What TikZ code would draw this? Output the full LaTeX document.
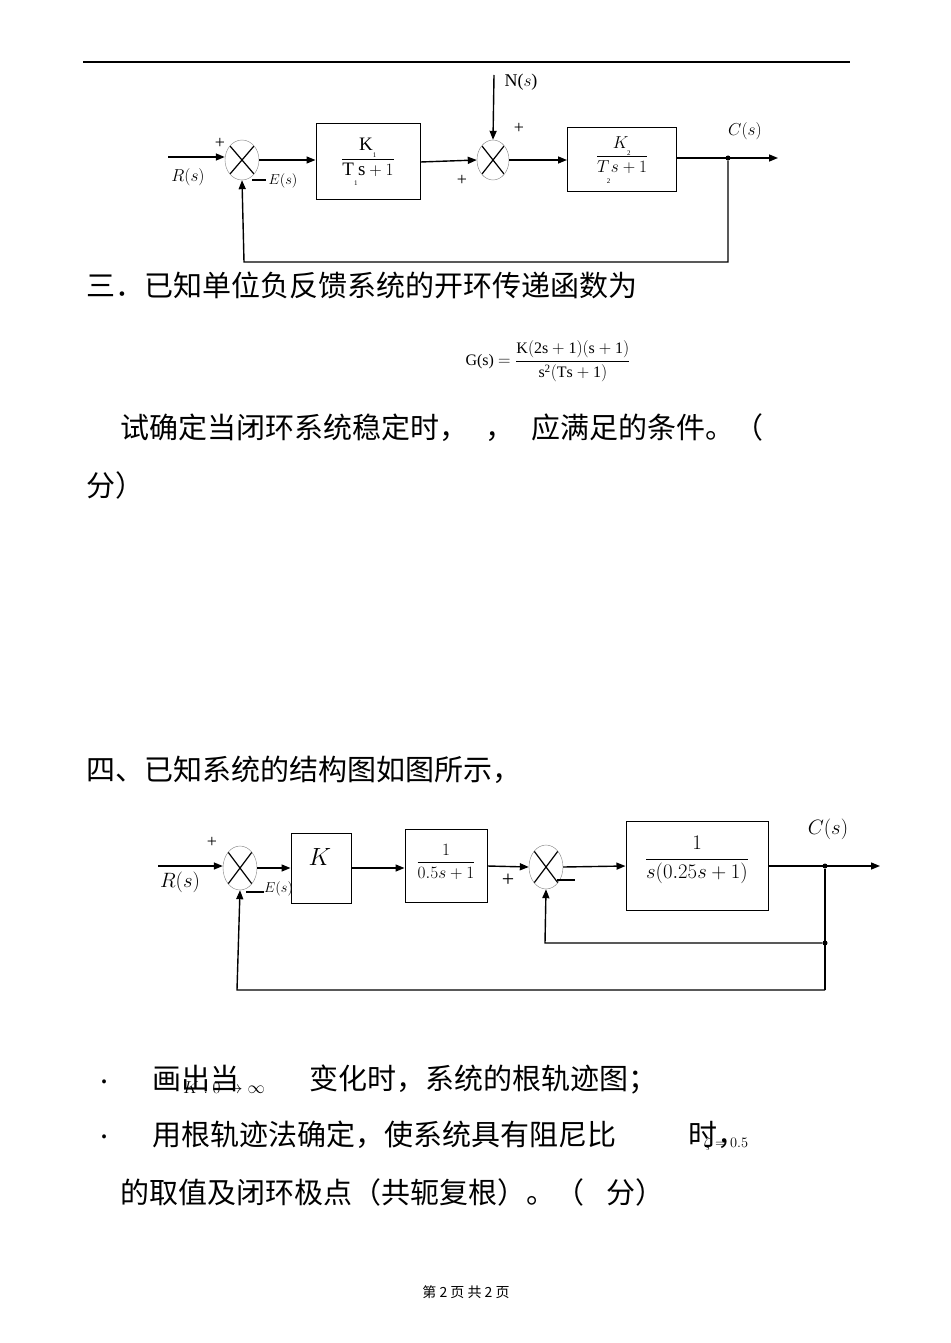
\documentclass[tikz,border=0pt]{standalone}
\usepackage{fontspec}
\setmainfont{Liberation Serif}
\newfontfamily\cjk{Noto Sans CJK SC}
\usetikzlibrary{arrows.meta,shapes.geometric}
\begin{document}
\begin{tikzpicture}[x=1pt,y=-1pt,
  blk/.style={draw,line width=1pt,minimum width=#1,inner sep=0pt},
  sumj/.style={draw=gray,ellipse,minimum width=34pt,minimum height=40pt,inner sep=0pt,
    path picture={\draw[black,line width=1.2pt] (path picture bounding box.north west)++(5pt,-6pt) -- ([shift={(-5pt,6pt)}]path picture bounding box.south east);
    \draw[black,line width=1.2pt] ([shift={(-5pt,-6pt)}]path picture bounding box.north east) -- ([shift={(5pt,6pt)}]path picture bounding box.south west);}},
  sig/.style={line width=1.4pt,-{Triangle[length=9pt,width=7pt]}},
  ln/.style={line width=1.4pt},
  lbl/.style={font=\fontsize{18}{18}\selectfont,inner sep=0pt},
  cn/.style={font=\cjk\fontsize{29}{29}\selectfont,anchor=west,inner sep=0pt},
  dotn/.style={circle,fill,inner sep=0pt,minimum size=5pt}]
\useasboundingbox (0,0) rectangle (950,1343);
\fill[white] (0,0) rectangle (950,1343);
\draw[line width=1.6pt] (83,62) -- (850,62);
% ---- top diagram
\coordinate (rin) at (168,157);
\node[sumj] (s1) at (242,160) {};
\node[blk,minimum height=76pt,minimum width=104pt] (b1) at (368,162) {};
\node[font=\fontsize{19}{19}\selectfont] (b1t) at (368,162) {$\displaystyle\frac{\mathrm{K}_{\raisebox{-4pt}{\scriptsize 1}}}{\mathrm{T}_{\raisebox{-8pt}{\scriptsize 1}}\mathrm{s}+1}$};
\node[sumj,minimum width=32pt] (s2) at (493,160) {};
\coordinate (nin) at (494,75);
\node[blk,minimum height=64pt,minimum width=109pt] (b2) at (622,160) {};
\node[font=\fontsize{19}{19}\selectfont] (b2t) at (622,160) {$\displaystyle\frac{K_{\raisebox{-4pt}{\scriptsize 2}}}{T_{\raisebox{-8pt}{\scriptsize 2}}s+1}$};
\node[dotn] (c1) at (728,158) {};
\coordinate (cout) at (778,158);
\coordinate (fb1) at (728,262);
\coordinate (fb2) at (244,262);
\draw[sig] (rin) -- (s1.west|-rin);
\draw[sig] (s1.east) -- (b1.west|-s1.east);
\draw[sig] (b1.east) -- (s2.west);
\draw[sig] (nin) -- (s2.north);
\draw[sig] (s2.east) -- (b2.west|-s2.east);
\draw[sig] (b2.east|-c1) -- (cout);
\draw[sig] (c1) -- (fb1) -- (fb2) -- (s1.south);
\node[lbl] (l1) at (188,177) {$R(s)$};
\node[lbl] (l2) at (220,143) {+};
\node[lbl,font=\fontsize{14}{14}\selectfont,anchor=west] (l3) at (252,181) {\rule[4pt]{14pt}{1.2pt}\,$E(s)$};
\node[lbl] (l4) at (462,180) {+};
\node[lbl] (l5) at (521,82) {N($s$)};
\node[lbl] (l6) at (519,128) {+};
\node[lbl] (l7) at (745,131) {$C(s)$};
% ---- text
\node[cn] (t1) at (86,285) {三．已知单位负反馈系统的开环传递函数为};
\node[font=\fontsize{16}{16}\selectfont] (g) at (548,361) {G(s) $=\displaystyle\frac{\mathrm{K(2s+1)(s+1)}}{\mathrm{s^2(Ts+1)}}$};
\node[cn] (t2) at (120,428) {试确定当闭环系统稳定时，\hspace{17pt}，\hspace{17pt}应满足的条件。（};
\node[cn] (t3) at (86,485) {分）};
\node[cn] (t4) at (86,770) {四、已知系统的结构图如图所示，};
% ---- bottom diagram
\coordinate (rin2) at (158,866);
\node[sumj,minimum height=44pt] (s3) at (240,868) {};
\node[blk,minimum height=70pt,minimum width=60pt] (k) at (321,868) {};
\node[lbl,font=\fontsize{24}{24}\selectfont] (kt) at (320,857) {$K$};
\node[blk,minimum height=73pt,minimum width=82pt] (b3) at (446,866) {};
\node[font=\fontsize{19}{19}\selectfont] (b3t) at (446,862) {$\displaystyle\frac{1}{0.5s+1}$};
\node[sumj,minimum height=44pt] (s4) at (546,867) {};
\node[blk,minimum height=89pt,minimum width=142pt] (b4) at (697,866) {};
\node[font=\fontsize{20}{20}\selectfont] (b4t) at (697,860) {$\displaystyle\frac{1}{s(0.25s+1)}$};
\node[dotn] (c2) at (825,866) {};
\node[dotn] (c3) at (825,943) {};
\coordinate (cout2) at (880,866);
\coordinate (ob) at (825,990);
\coordinate (obl) at (237,990);
\coordinate (ibl) at (545,943);
\draw[sig] (rin2) -- (s3.west|-rin2);
\draw[sig] (s3.east|-k) -- (k.west);
\draw[sig] (k.east) -- (b3.west|-k);
\draw[sig] (b3.east) -- (s4.west);
\draw[sig] (s4.east) -- (b4.west);
\draw[sig] (b4.east) -- (cout2);
\draw[ln] (c2) -- (ob);
\draw[sig] (c3) -- (ibl) -- (s4.south);
\draw[sig] (ob) -- (obl) -- (s3.south);
\node[lbl] (m1) at (212,842) {+};
\node[lbl,font=\fontsize{22}{22}\selectfont] (m2) at (180,882) {$R(s)$};
\node[lbl,font=\fontsize{14}{14}\selectfont,anchor=west] (m3) at (246,889) {\rule[0pt]{18pt}{1.2pt}$E(s)$};
\node[lbl,font=\fontsize{22}{22}\selectfont] (m4) at (508,880) {+};
\node[lbl,font=\fontsize{22}{22}\selectfont] (m5) at (566,880) {\rule{18pt}{1.3pt}};
\node[lbl,font=\fontsize{22}{22}\selectfont] (m6) at (828,829) {$C(s)$};
% ---- questions
\node[cn] (q0) at (100,1082) {.};
\node[cn] (q1) at (152,1080) {画出当\hspace{70pt}变化时，系统的根轨迹图；};
\node[lbl,font=\fontsize{16}{16}\selectfont] (q1m) at (224,1088) {$K:0\rightarrow\infty$};
\node[cn] (q2a) at (100,1137) {.};
\node[cn] (q2) at (152,1135) {用根轨迹法确定，使系统具有阻尼比\hspace{72pt}时，};
\node[lbl,font=\fontsize{15}{15}\selectfont] (q2m) at (726,1144) {$\zeta=0.5$};
\node[cn] (q3) at (120,1192) {的取值及闭环极点（共轭复根）。（\hspace{22pt}分）};
\node[font=\cjk\fontsize{14}{14}\selectfont] (pg) at (466,1292) {第 2 页 共 2 页};
\end{tikzpicture}
\end{document}
